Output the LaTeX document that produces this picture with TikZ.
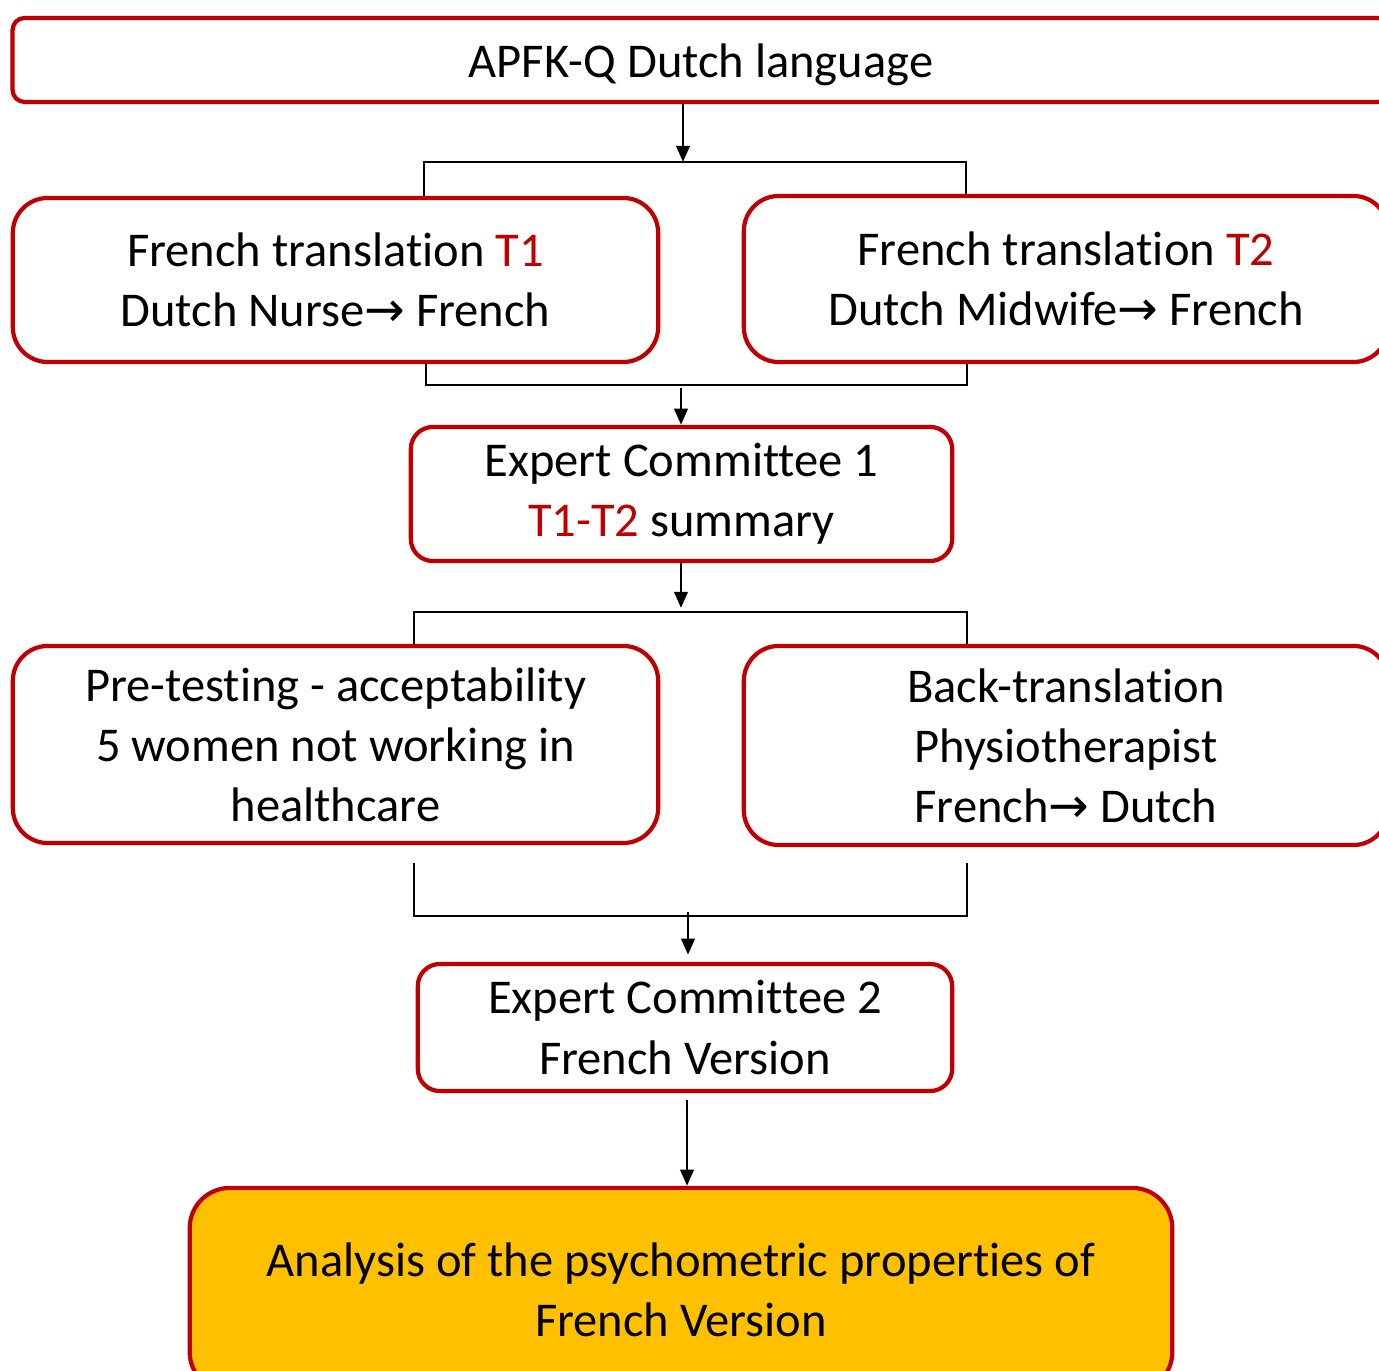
\documentclass[tikz,border=0pt]{standalone}
\usepackage{fontspec}
\setmainfont[Ligatures=NoCommon]{Carlito}
\newfontfamily\arrowfont{DejaVu Sans}
\usetikzlibrary{arrows.meta,positioning,calc}
\definecolor{boxred}{HTML}{C00000}
\definecolor{boxorange}{HTML}{FFC000}
\newcommand{\toarrow}{{\arrowfont →}}
\newcommand{\tred}[1]{\textcolor{boxred}{#1}}

\begin{document}
\begin{tikzpicture}[x=0.01cm,y=-0.01cm,
    stepbox/.style={draw=boxred,line width=1.2pt,rounded corners=0.35cm,fill=white,
      align=center,inner sep=0pt,font=\fontsize{13.8}{17.1}\selectfont,
      execute at begin node={\rule{0pt}{12.6pt}}},
    link/.style={line width=0.8pt,-{Triangle[length=4.6pt,width=3.8pt]}},
    bracket/.style={line width=0.5pt}]
    \useasboundingbox (0,0) rectangle (1379,1371);
    \clip (0,0) rectangle (1379,1371);

    \node[stepbox,rounded corners=0.12cm,minimum width=13.76cm,minimum height=0.84cm] (apfk) at (701,60) {APFK-Q Dutch language};
    \node[stepbox,minimum width=6.45cm,minimum height=1.64cm] (t1) at (335.5,280) {French translation \tred{T1}\\Dutch Nurse\toarrow\ French};
    \node[stepbox,minimum width=6.44cm,minimum height=1.66cm] (t2) at (1066,279) {French translation \tred{T2}\\Dutch Midwife\toarrow\ French};
    \node[stepbox,rounded corners=0.22cm,minimum width=5.41cm,minimum height=1.34cm] (ec1) at (681.5,494) {Expert Committee 1\\\tred{T1-T2} summary};
    \node[stepbox,minimum width=6.45cm,minimum height=1.97cm] (pre) at (335.5,744.5) {Pre-testing - acceptability\\5 women not working in\\healthcare};
    \node[stepbox,minimum width=6.44cm,minimum height=1.99cm] (back) at (1066,745.5) {Back-translation\\Physiotherapist\\French\toarrow\ Dutch};
    \node[stepbox,rounded corners=0.22cm,minimum width=5.34cm,minimum height=1.27cm] (ec2) at (685,1027.5) {Expert Committee 2\\French Version};
    \node[stepbox,fill=boxorange,rounded corners=0.4cm,minimum width=9.82cm,minimum height=2.04cm] (ana) at (681,1290) {Analysis of the psychometric properties of\\French Version};

    % split after the Dutch version
    \coordinate (s1l) at (424,162);
    \coordinate (s1m) at (683,162);
    \coordinate (s1r) at (966,162);
    \draw[link] (apfk.south -| s1m) -- (s1m);
    \draw[bracket] (t1.north -| s1l) -- (s1l) -- (s1r) -- (t2.north -| s1r);

    % join into committee 1
    \coordinate (j1l) at (426,385);
    \coordinate (j1m) at (681,388);
    \coordinate (j1r) at (967,385);
    \draw[bracket] (t1.south -| j1l) -- (j1l) -- (j1r) -- (t2.south -| j1r);
    \draw[link] (j1m) -- (ec1.north -| j1m);

    % split after committee 1
    \coordinate (s2l) at (414,612);
    \coordinate (s2m) at (681,608);
    \coordinate (s2r) at (967,612);
    \draw[link] (ec1.south -| s2m) -- (s2m);
    \draw[bracket] (pre.north -| s2l) -- (s2l) -- (s2r) -- (back.north -| s2r);

    % join into committee 2
    \coordinate (j2lt) at (414,863);
    \coordinate (j2l) at (414,916);
    \coordinate (j2r) at (967,916);
    \coordinate (j2rt) at (967,863);
    \coordinate (j2m) at (688,912);
    \draw[bracket] (j2lt) -- (j2l) -- (j2r) -- (j2rt);
    \draw[link,shorten >=2pt] (j2m) -- (ec2.north -| j2m);

    \coordinate (e2m) at (687,1100);
    \draw[link] (e2m) -- (ana.north -| e2m);
\end{tikzpicture}
\end{document}
